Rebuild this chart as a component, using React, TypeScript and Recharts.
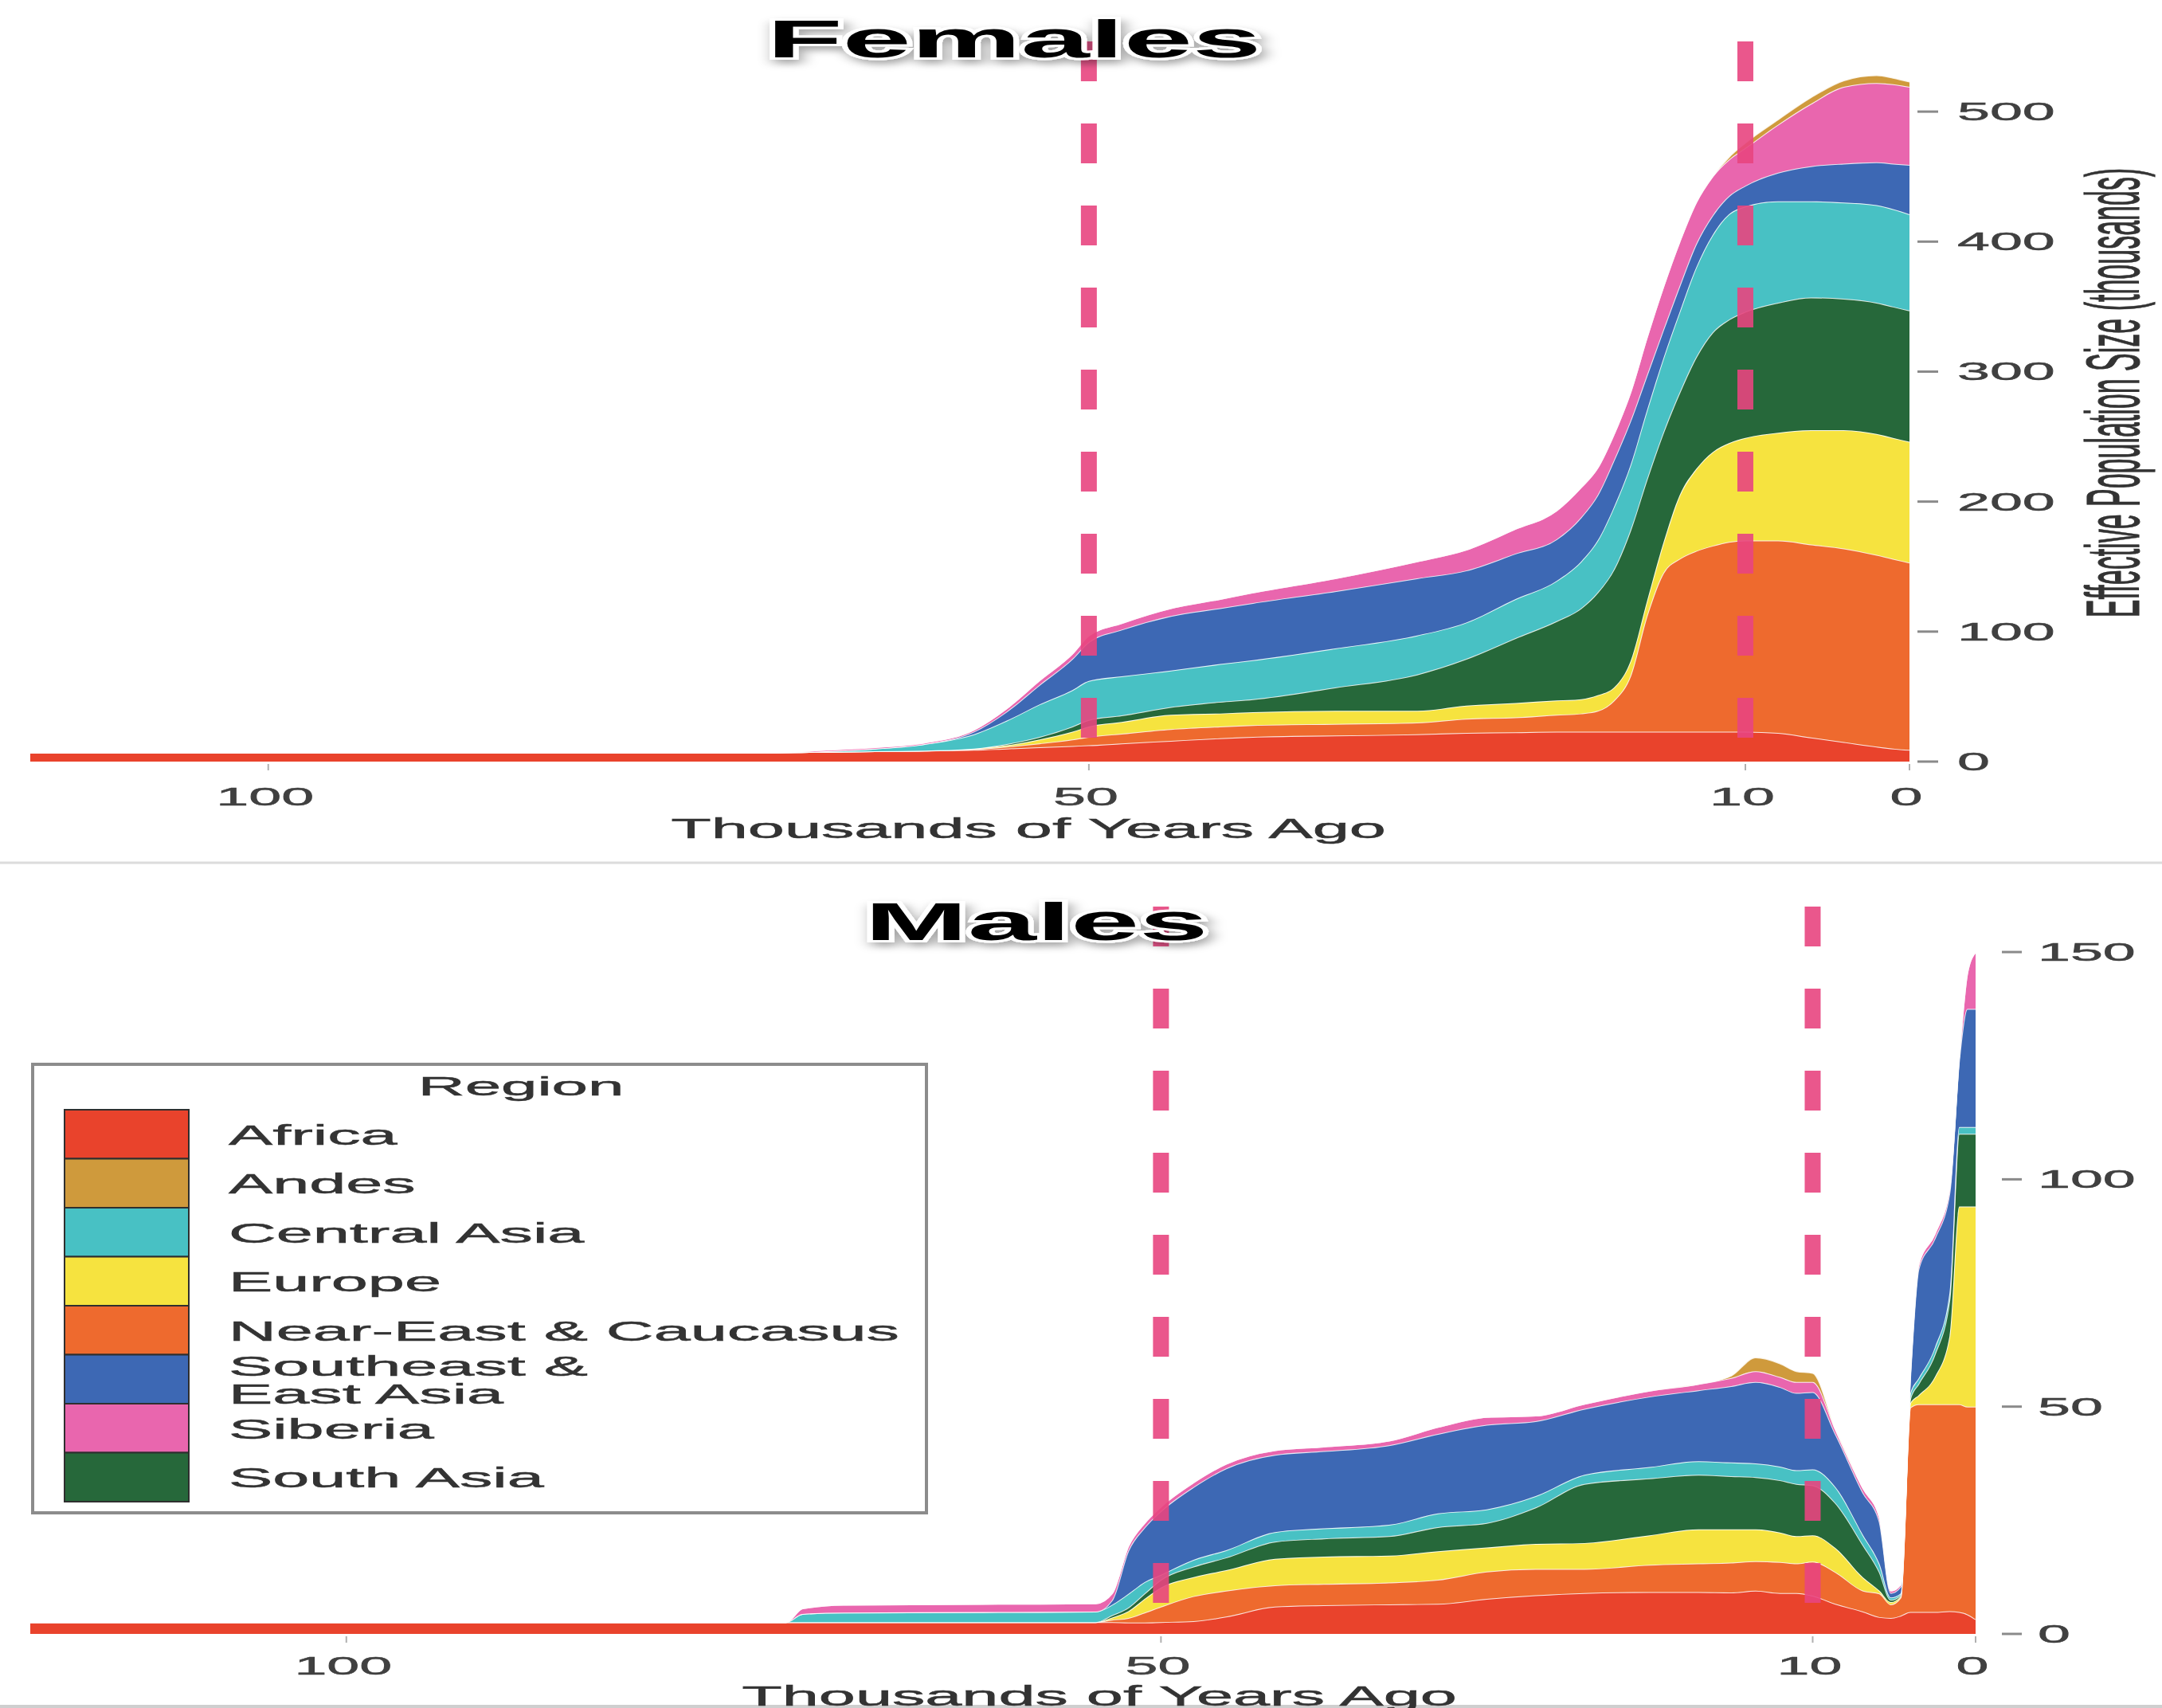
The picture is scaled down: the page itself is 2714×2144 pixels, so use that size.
import React from "react";
import { AreaChart, Area, XAxis, YAxis, ReferenceLine } from "recharts";

const FONT = "'Liberation Sans', Arial, Helvetica, sans-serif";

// stacking order, bottom to top
const SERIES_KEYS = ["africa", "nearEast", "europe", "southAsia", "centralAsia", "southeast", "siberia", "andes"];
const SERIES_NAMES = [
  "Africa",
  "Near-East & Caucasus",
  "Europe",
  "South Asia",
  "Central Asia",
  "Southeast & East Asia",
  "Siberia",
  "Andes",
];
const SERIES_COLORS = ["#e9432c", "#ee6a2e", "#f6e33f", "#26683a", "#48c1c4", "#3d68b4", "#e966ae", "#cf9a3c"];

// legend order (as printed in the box)
const LEGEND_NAMES = [
  "Africa",
  "Andes",
  "Central Asia",
  "Europe",
  "Near-East & Caucasus",
  "Southeast & East Asia",
  "Siberia",
  "South Asia",
];
const LEGEND_LINES = [["Africa"], ["Andes"], ["Central Asia"], ["Europe"], ["Near-East & Caucasus"], ["Southeast &", "East Asia"], ["Siberia"], ["South Asia"]];

const X_TICKS = [100, 50, 10, 0];
const DASHED_KYA = [50, 10];

// ---- Females (thousands) ----
const F_KYA = [114.5, 100, 80, 70, 66, 63, 60, 57, 55, 53, 51, 50, 48, 45, 42, 40, 35, 30, 27, 24, 21.5, 20, 19, 18, 17, 16, 15, 14, 13, 12, 11, 10, 8, 6, 4, 2, 1, 0];
const F_AFRICA = [7, 7, 7, 7, 7.5, 8, 8.5, 9, 10, 11, 12, 12.5, 14, 16, 18, 19, 20, 21, 22, 22.5, 23, 23, 23, 23, 23, 23, 23, 23, 23, 23, 23, 23, 22, 18.5, 15, 11.5, 10, 9];
const F_NEAR_EAST = [0, 0, 0, 0, 0, 0, 0, 0.5, 1.5, 3, 5, 6.5, 7.5, 9, 9, 9, 9, 9, 11, 11.5, 13, 14, 16, 24, 43, 89, 122, 133, 139, 143, 146, 147, 148, 148.5, 149, 147.5, 146, 144];
const F_EUROPE = [0, 0, 0, 0, 0, 0, 0, 0.5, 1, 3, 6, 8, 9, 11, 10, 10, 10, 9, 10, 11, 11, 11, 12, 10, 11, 11, 23, 49, 63, 72, 76, 79, 83, 88, 91, 93, 93, 93];
const F_SOUTH_ASIA = [0, 0, 0, 0, 0, 0, 0, 0, 1, 2, 4, 5, 5, 6, 9, 10, 18, 28, 36, 50, 61, 70, 79, 91, 101, 94, 85, 79, 86, 92, 95, 97, 100, 102, 101, 101, 101, 101];
const F_CENTRAL_ASIA = [0, 0, 0, 0, 0.5, 2, 5, 11, 18, 25, 28, 30, 30, 28, 29, 30, 30, 30, 28, 30, 31, 36, 40, 48, 50, 53, 57, 62, 69, 75, 81, 81, 78, 74, 74, 75, 75, 74];
const F_SOUTHEAST = [0, 0, 0, 0, 0, 0, 0, 2, 7, 15, 24, 30, 36, 42, 43, 44, 44, 44, 40, 35, 32, 34, 35, 36, 34, 27, 22, 20, 18, 15, 14, 16, 22, 27, 30, 33, 35, 38];
const F_SIBERIA = [0, 0, 0, 0, 1, 1, 1, 1.5, 2.5, 3.5, 4, 5, 5, 6, 7, 8, 10, 13, 16, 19, 22, 23, 21, 20, 22, 29, 33, 34, 32, 30, 28, 29, 37, 48, 59, 61, 61, 60];
const F_ANDES = [0, 0, 0, 0, 0, 0, 0, 0, 0, 0, 0, 0, 0, 0, 0, 0, 0, 0, 0, 0, 0, 0, 0, 0, 0, 0, 0, 0, 0, 0, 2, 4, 4, 5, 5, 6, 5, 4];
const F_Y_TICKS = [0, 100, 200, 300, 400, 500];

// ---- Males (thousands) ----
const M_KYA = [119.4, 100, 80, 73, 72, 69.5, 60, 54, 53, 52, 51, 50, 48, 46, 43, 40, 36, 33, 30, 27, 24, 20, 17, 15, 13.5, 12, 11, 10, 8.6, 6.9, 5.9, 5.2, 4.6, 4, 3.5, 2.5, 1.6, 1, 0.5, 0];
const M_AFRICA = [2.6, 2.6, 2.6, 2.6, 2.6, 2.6, 2.6, 2.6, 2.6, 2.5, 2.5, 2.6, 2.8, 3.8, 6, 6.3, 6.5, 6.6, 7.7, 8.5, 9, 9.2, 9.2, 9.1, 9.5, 9, 9, 8.4, 6.6, 4.9, 3.7, 3.5, 4, 4.8, 4.8, 4.8, 5, 4.8, 4.3, 3.2];
const M_NEAR_EAST = [0, 0, 0, 0, 0, 0, 0, 0, 0.5, 1, 2.2, 3.4, 5.5, 5.7, 4.7, 4.7, 4.8, 5.3, 6, 5.8, 5.3, 6, 6.3, 6.6, 6.5, 6.8, 6.5, 7.5, 7, 4.6, 5.2, 3, 4, 45, 45.7, 45.7, 45.5, 45.7, 45.7, 46.8];
const M_EUROPE = [0, 0, 0, 0, 0, 0, 0, 0, 0.5, 1.5, 3, 4.2, 4.2, 4.5, 5.8, 6, 5.9, 6.3, 5.3, 5.5, 5.7, 6.5, 7.5, 7.3, 7, 6.5, 6, 5.8, 5.3, 2.9, 0.6, 0.5, 0.3, 1, 2, 6, 15, 43.5, 44, 44];
const M_SOUTH_ASIA = [0, 0, 0, 0, 0, 0, 0, 0, 0.5, 0.8, 1.2, 1.7, 2.3, 2.8, 3.8, 4, 4.3, 5.3, 5.4, 8, 13, 12.5, 12, 11.7, 11.5, 11.5, 11.5, 11, 9.9, 7.1, 4.1, 0.5, 0.3, 1, 2.5, 5, 8, 16, 16, 16];
const M_CENTRAL_ASIA = [0, 0, 0, 0, 1.8, 2.1, 2.2, 2.3, 2.3, 3, 2.5, 1.1, 1.5, 1.6, 2.1, 2.2, 2.5, 3, 3, 2.5, 2, 2.5, 3, 3, 3, 3, 3, 3.5, 3.5, 2.2, 1.8, 0.5, 0.3, 1.2, 1.2, 1.5, 1.5, 1.5, 1.5, 1.5];
const M_SOUTHEAST = [0, 0, 0, 0, 0, 0, 0, 0, 1, 9.5, 12, 14, 16, 18, 17, 17, 17.5, 17.5, 18.6, 16.5, 14.5, 15.5, 15.6, 16.8, 17.9, 17.5, 17, 17, 11.7, 9.3, 9.3, 1, 1.5, 4, 24, 24, 22, 15, 26, 26];
const M_SIBERIA = [0, 0, 0, 0, 1.2, 1.7, 1.8, 1.8, 1.5, 1, 1, 1, 1, 1, 1, 1, 1, 1.5, 1.7, 1.2, 1.1, 1.3, 1.4, 1.8, 2.4, 2.2, 2.4, 2.2, 1, 1, 1, 0.5, 0.5, 1, 1, 1, 1, 1, 8, 12.5];
const M_ANDES = [0, 0, 0, 0, 0, 0, 0, 0, 0, 0, 0, 0, 0, 0, 0, 0, 0, 0, 0, 0, 0, 0, 0, 0.5, 3, 3, 2.4, 2, 0, 0, 0, 0, 0, 0, 0, 0, 0, 0, 0, 0];
const M_Y_TICKS = [0, 50, 100, 150];

function buildRows(kya: number[], series: number[][]) {
  return kya.map((k, i) => {
    const row: Record<string, number> = { kya: k };
    SERIES_KEYS.forEach((key, s) => {
      row[key] = series[s][i];
    });
    return row;
  });
}

const femaleRows = buildRows(F_KYA, [F_AFRICA, F_NEAR_EAST, F_EUROPE, F_SOUTH_ASIA, F_CENTRAL_ASIA, F_SOUTHEAST, F_SIBERIA, F_ANDES]);
const maleRows = buildRows(M_KYA, [M_AFRICA, M_NEAR_EAST, M_EUROPE, M_SOUTH_ASIA, M_CENTRAL_ASIA, M_SOUTHEAST, M_SIBERIA, M_ANDES]);

const makeYTick = (tickFrom: number, tickTo: number, labelAt: number) => (props: any) => {
  const { x, y, payload } = props;
  return (
    <g>
      <line x1={x + tickFrom} x2={x + tickTo} y1={y} y2={y} stroke="#8a8a8a" strokeWidth={3} />
      <text
        transform={`translate(${x + labelAt},${y + 11}) scale(2.3,1)`}
        fontSize={32}
        fontFamily={FONT}
        fill="#404040"
        stroke="#404040"
        strokeWidth={0.5}
      >
        {payload.value}
      </text>
    </g>
  );
};

const makeXTick = (baseline: number) => (props: any) => {
  const { x, y, payload } = props;
  return (
    <g>
      <line x1={x} x2={x} y1={y + 3} y2={y + 11} stroke="#b0b0b0" strokeWidth={2} />
      <text
        transform={`translate(${x - 4},${y + baseline}) scale(2.3,1)`}
        textAnchor="middle"
        fontSize={32}
        fontFamily={FONT}
        fill="#404040"
        stroke="#404040"
        strokeWidth={0.5}
      >
        {payload.value}
      </text>
    </g>
  );
};

interface PanelProps {
  rows: Record<string, number>[];
  top: number;
  height: number;
  xMax: number;
  yMax: number;
  yTicks: number[];
  xAxisHeight: number;
  yAxisWidth: number;
  yTick: (p: any) => React.ReactElement;
  xTick: (p: any) => React.ReactElement;
}

function Panel(p: PanelProps) {
  return (
    <div style={{ position: "absolute", left: 0, top: p.top }}>
      <AreaChart width={2714} height={p.height} data={p.rows} margin={{ top: 52, right: 0, bottom: 0, left: 38 }}>
        <XAxis
          type="number"
          dataKey="kya"
          domain={[0, p.xMax]}
          reversed
          allowDataOverflow
          ticks={X_TICKS}
          interval={0}
          height={p.xAxisHeight}
          tickLine={false}
          axisLine={false}
          tickSize={0}
          tickMargin={0}
          tick={p.xTick}
        />
        <YAxis
          orientation="right"
          type="number"
          domain={[0, p.yMax]}
          allowDataOverflow
          ticks={p.yTicks}
          interval={0}
          width={p.yAxisWidth}
          tickLine={false}
          axisLine={false}
          tickSize={0}
          tickMargin={0}
          tick={p.yTick}
        />
        {SERIES_KEYS.map((key, i) => (
          <Area
            key={key}
            type="monotone"
            dataKey={key}
            name={SERIES_NAMES[i]}
            stackId="regions"
            fill={SERIES_COLORS[i]}
            fillOpacity={1}
            stroke="#ffffff"
            strokeWidth={2}
            strokeOpacity={0.85}
            dot={false}
            activeDot={false}
            isAnimationActive={false}
          />
        ))}
        {DASHED_KYA.map((k) => (
          <ReferenceLine
            key={k}
            segment={[
              { x: k, y: p.yMax },
              { x: k, y: -p.yMax * 0.015 },
            ]}
            ifOverflow="visible"
            stroke="#e8457f"
            strokeWidth={20}
            strokeOpacity={0.9}
            strokeDasharray="50 53"
          />
        ))}
      </AreaChart>
    </div>
  );
}

function Overlay() {
  const rowH = 61.5;
  return (
    <svg
      width={2714}
      height={2144}
      style={{ position: "absolute", left: 0, top: 0, pointerEvents: "none" }}
      fontFamily={FONT}
    >
      <defs>
        <filter id="titleShadow" x="-10%" y="-40%" width="120%" height="180%">
          <feDropShadow dx="2" dy="5" stdDeviation="4" floodColor="#000" floodOpacity="0.35" />
        </filter>
      </defs>

      <line x1={0} x2={2714} y1={1083} y2={1083} stroke="#dcdcdc" strokeWidth={3} />
      <line x1={0} x2={2714} y1={2142} y2={2142} stroke="#cfcfcf" strokeWidth={4} />

      {/* panel titles */}
      <text
        transform="translate(1273,72) scale(2.35,1)"
        textAnchor="middle"
        fontSize={66}
        fontWeight="bold"
        fill="#000"
        stroke="#fff"
        strokeWidth={6}
        paintOrder="stroke"
        filter="url(#titleShadow)"
      >
        Females
      </text>
      <text
        transform="translate(1301,1180) scale(2.35,1)"
        textAnchor="middle"
        fontSize={66}
        fontWeight="bold"
        fill="#000"
        stroke="#fff"
        strokeWidth={6}
        paintOrder="stroke"
        filter="url(#titleShadow)"
      >
        Males
      </text>

      {/* axis titles */}
      <text
        transform="translate(1291,1052) scale(2.3,1)"
        textAnchor="middle"
        fontSize={36}
        fill="#333"
        stroke="#333"
        strokeWidth={0.5}
      >
        Thousands of Years Ago
      </text>
      <text
        transform="translate(1380,2141) scale(2.3,1)"
        textAnchor="middle"
        fontSize={36}
        fill="#333"
        stroke="#333"
        strokeWidth={0.5}
      >
        Thousands of Years Ago
      </text>
      <text
        transform="translate(2652,493) scale(2.8,1) rotate(-90)"
        textAnchor="middle"
        dominantBaseline="central"
        fontSize={34}
        fill="#333"
        stroke="#333"
        strokeWidth={0.4}
      >
        Effective Population Size (thousands)
      </text>

      {/* legend */}
      <rect x={41} y={1336} width={1122} height={563} fill="#fff" stroke="#8c8c8c" strokeWidth={4} />
      <text
        transform="translate(654,1375) scale(2.4,1)"
        textAnchor="middle"
        fontSize={34}
        fill="#333"
        stroke="#333"
        strokeWidth={0.5}
      >
        Region
      </text>
      {LEGEND_NAMES.map((name, i) => {
        const y = 1393 + i * rowH;
        const color = SERIES_COLORS[SERIES_NAMES.indexOf(name)];
        const lines = LEGEND_LINES[i];
        const cy = y + rowH / 2;
        return (
          <g key={name}>
            <rect x={81} y={y} width={156} height={rowH} fill={color} stroke="#2f2f2f" strokeWidth={2} />
            {lines.map((ln, j) => (
              <text
                key={ln}
                transform={`translate(287,${cy + 13 + (j - (lines.length - 1) / 2) * 35}) scale(2.3,1)`}
                fontSize={36}
                fill="#333"
                stroke="#333"
                strokeWidth={0.5}
              >
                {ln}
              </text>
            ))}
          </g>
        );
      })}
    </svg>
  );
}

export default function App() {
  return (
    <div
      style={{
        position: "absolute",
        left: 0,
        top: 0,
        width: 2714,
        height: 2144,
        background: "#fff",
        overflow: "hidden",
        fontFamily: FONT,
      }}
    >
      <Panel
        rows={femaleRows}
        top={0}
        height={1082}
        xMax={114.5}
        yMax={554}
        yTicks={F_Y_TICKS}
        xAxisHeight={126}
        yAxisWidth={317}
        yTick={makeYTick(10, 36, 60)}
        xTick={makeXTick(55)}
      />
      <Panel
        rows={maleRows}
        top={1086}
        height={1058}
        xMax={119.4}
        yMax={160}
        yTicks={M_Y_TICKS}
        xAxisHeight={93}
        yAxisWidth={234}
        yTick={makeYTick(33, 58, 78)}
        xTick={makeXTick(51)}
      />
      <Overlay />
    </div>
  );
}
